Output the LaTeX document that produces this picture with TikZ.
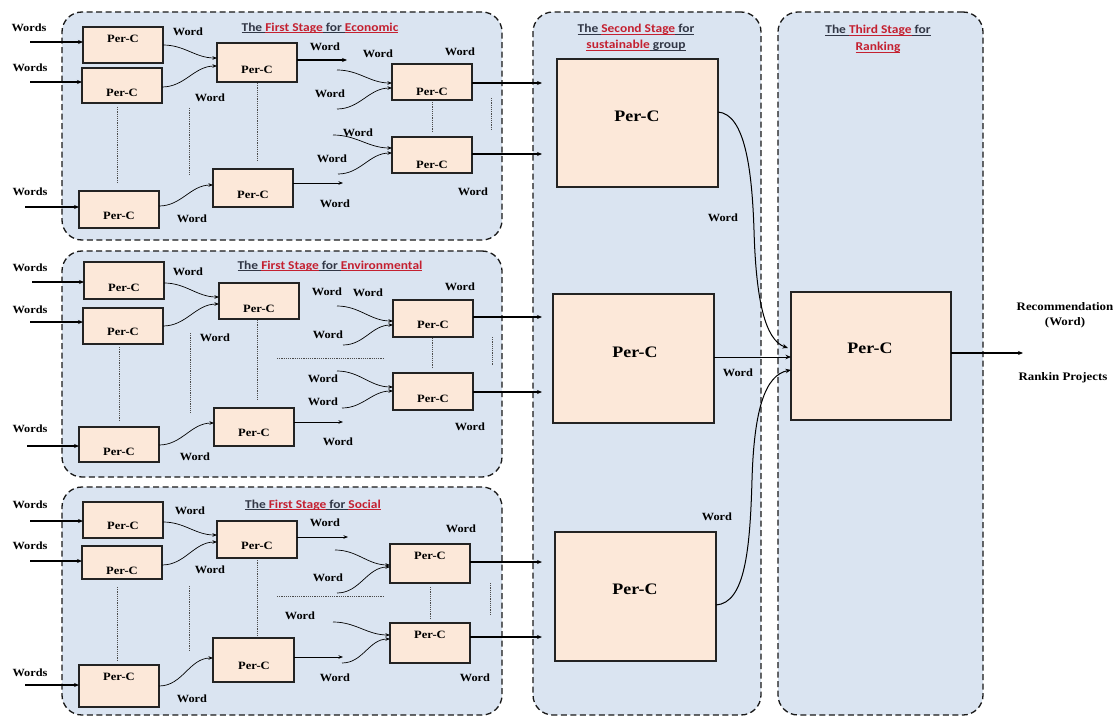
\documentclass[tikz,border=0pt]{standalone}
\usepackage{fontspec}
\setmainfont{Liberation Serif}[FakeStretch=1.12]
\newfontfamily\tfont{Carlito}[FakeStretch=1.12]
\usetikzlibrary{calc,arrows.meta}
\definecolor{stagebg}{RGB}{218,228,241}
\definecolor{boxfill}{RGB}{252,232,217}
\definecolor{boxline}{RGB}{35,35,35}
\definecolor{tred}{RGB}{196,32,48}
\definecolor{tdark}{RGB}{50,55,70}
\newcommand\tul[1]{\setbox0\hbox{#1}\rlap{\rule[-1.8pt]{\wd0}{0.7pt}}\box0}
\newcommand\mkbox[6][pbox]{\node[#1,anchor=north west,minimum width={(#5-#3)*1pt},minimum height={(#6-#4)*1pt}] (#2) at (#3,#4) {};}
\begin{document}
\begin{tikzpicture}[x=1pt,y=-1pt,
  wd/.style={font=\fontsize{11}{12}\selectfont\bfseries, inner sep=0},
  ptxt/.style={font=\fontsize{11.2}{13}\selectfont\bfseries, inner sep=0},
  bigt/.style={font=\fontsize{16}{18}\selectfont\bfseries, inner sep=0},
  ttl/.style={font=\tfont\fontsize{12}{16.5}\selectfont\bfseries, text=tdark, align=center, inner sep=0},
  pbox/.style={draw=boxline, fill=boxfill, line width=1.2pt, inner sep=0, outer sep=0},
  frm/.style={draw=black!90, fill=stagebg, dash pattern=on 6pt off 3.5pt, line width=1.3pt, rounded corners=20pt, inner sep=0, outer sep=0},
  inarr/.style={line width=1.3pt, -{Stealth[length=5pt,width=4pt]}},
  carr/.style={line width=0.7pt, -{Stealth[length=4.5pt,width=3.5pt]}},
  marr/.style={line width=1.1pt, -{Stealth[length=5pt,width=4pt]}},
  sarr/.style={line width=1pt, -{Stealth[length=5.5pt,width=4.5pt]}},
  dots/.style={draw=gray!60!black, line width=0.9pt, dash pattern=on 1.2pt off 1pt}]
\useasboundingbox (0,0) rectangle (1120,717);
% frames
\mkbox[frm]{fe}{62}{12}{502}{240}
\mkbox[frm]{fv}{62}{251}{502}{477}
\mkbox[frm]{fs}{62}{487}{502}{715}
\mkbox[frm]{f2}{533}{12}{761}{715}
\mkbox[frm]{f3}{778}{12}{983}{715}
% titles
\node[ttl] (te) at (320,28) {\tul{The }{\color{tred}\tul{First Stage}}\tul{ for }{\color{tred}\tul{Economic}}};
\node[ttl] (tv) at (330,266) {\tul{The }{\color{tred}\tul{First Stage}}\tul{ for }{\color{tred}\tul{Environmental}}};
\node[ttl] (ts) at (313,505) {\tul{The }{\color{tred}\tul{First Stage}}\tul{ for }{\color{tred}\tul{Social}}};
\node[ttl] (t2) at (636,37.5) {\tul{The }{\color{tred}\tul{Second Stage}}\tul{ for}\\{\color{tred}\tul{sustainable}}\tul{ group}};
\node[ttl] (t3) at (878,39) {\tul{The }{\color{tred}\tul{Third Stage}}\tul{ for}\\{\color{tred}\tul{Ranking}}};
% dotted guides
\draw[dots] (117,107) -- (117,182); \draw[dots] (189,108) -- (189,175); \draw[dots] (257,83) -- (257,162);
\draw[dots] (432,102) -- (432,132); \draw[dots] (491,98) -- (491,130);
\draw[dots] (119,347) -- (119,420); \draw[dots] (190,333) -- (190,413); \draw[dots] (257,320) -- (257,400);
\draw[dots] (432,338) -- (432,368); \draw[dots] (492,337) -- (492,365); \draw[dots] (277,358) -- (383,358);
\draw[dots] (117,587) -- (117,660); \draw[dots] (189,586) -- (189,652); \draw[dots] (257,558) -- (257,638);
\draw[dots] (430,587) -- (430,618); \draw[dots] (490,583) -- (490,615); \draw[dots] (277,596) -- (383,596);
% ===== Economic boxes
\mkbox{ea1}{83}{27}{163}{63}
\mkbox{ea2}{82}{68}{162}{103}
\mkbox{eb1}{217}{43}{297}{82}
\mkbox{ec1}{392}{64}{472}{100}
\mkbox{ec2}{392}{137}{472}{173}
\mkbox{eb2}{213}{169}{293}{207}
\mkbox{ea3}{79}{191}{159}{228}
\node[ptxt] (ea1t) at (123,39) {Per-C};
\node[ptxt] (ea2t) at (122,93) {Per-C};
\node[ptxt] (eb1t) at (257,70) {Per-C};
\node[ptxt] (ec1t) at (432,92) {Per-C};
\node[ptxt] (ec2t) at (432,165) {Per-C};
\node[ptxt] (eb2t) at (253,195) {Per-C};
\node[ptxt] (ea3t) at (119,216) {Per-C};
% ===== Environmental boxes
\mkbox{va1}{84}{262}{164}{299}
\mkbox{va2}{83}{308}{163}{344}
\mkbox{vb1}{219}{283}{299}{319}
\mkbox{vc1}{393}{300}{473}{337}
\mkbox{vc2}{393}{373}{473}{410}
\mkbox{vb2}{214}{408}{294}{446}
\mkbox{va3}{79}{427}{159}{462}
\node[ptxt] (va1t) at (124,288) {Per-C};
\node[ptxt] (va2t) at (123,332) {Per-C};
\node[ptxt] (vb1t) at (259,309) {Per-C};
\node[ptxt] (vc1t) at (433,325) {Per-C};
\node[ptxt] (vc2t) at (433,399) {Per-C};
\node[ptxt] (vb2t) at (254,433) {Per-C};
\node[ptxt] (va3t) at (119,452) {Per-C};
% ===== Social boxes
\mkbox{sa1}{83}{502}{163}{538}
\mkbox{sa2}{82}{546}{162}{579}
\mkbox{sb1}{217}{521}{297}{558}
\mkbox{sc1}{390}{544}{470}{583}
\mkbox{sc2}{390}{623}{470}{663}
\mkbox{sb2}{213}{638}{294}{682}
\mkbox{sa3}{79}{665}{159}{707}
\node[ptxt] (sa1t) at (123,526) {Per-C};
\node[ptxt] (sa2t) at (122,571) {Per-C};
\node[ptxt] (sb1t) at (257,546) {Per-C};
\node[ptxt] (sc1t) at (430,556) {Per-C};
\node[ptxt] (sc2t) at (430,635) {Per-C};
\node[ptxt] (sb2t) at (254,666) {Per-C};
\node[ptxt] (sa3t) at (119,677) {Per-C};
% ===== Stage 2 / 3 boxes
\mkbox{S1}{557}{59}{718}{187}
\mkbox{S2}{553}{294}{714}{423}
\mkbox{S3}{555}{532}{716}{661}
\mkbox{T}{791}{292}{951}{420}
\node[bigt] (S1t) at (637,116) {Per-C};
\node[bigt] (S2t) at (635,352) {Per-C};
\node[bigt] (S3t) at (635,589) {Per-C};
\node[bigt] (Tt) at (870,348) {Per-C};
% ===== Economic connectors
\coordinate (eiA) at (30,42); \draw[inarr] (eiA) -- ($(ea1.north west)+(0,15)$);
\coordinate (eiB) at (30,82); \draw[inarr] (eiB) -- ($(ea2.north west)+(0,14)$);
\coordinate (eiC) at (25,207); \draw[inarr] (eiC) -- ($(ea3.north west)+(0,16)$);
\draw[carr] ($(ea1.north east)+(0,18)$) to[out=0,in=180] ($(eb1.north west)+(0,15)$);
\draw[carr] ($(ea2.north east)+(0,19)$) to[out=0,in=180] ($(eb1.north west)+(0,23)$);
\coordinate (eoB1) at (347,60); \draw[marr] ($(eb1.north east)+(0,17)$) -- (eoB1);
\coordinate (ecA) at (337,70); \draw[carr] (ecA) to[out=0,in=180] ($(ec1.north west)+(0,19)$);
\coordinate (ecB) at (337,109); \draw[carr] (ecB) to[out=0,in=180] ($(ec1.north west)+(0,24)$);
\coordinate (es1) at (542,83); \draw[marr] ($(ec1.north east)+(0,19)$) -- (es1);
\coordinate (ecC) at (333,135); \draw[carr] (ecC) to[out=0,in=180] ($(ec2.north west)+(0,11)$);
\coordinate (ecD) at (338,174); \draw[carr] (ecD) to[out=0,in=180] ($(ec2.north west)+(0,16)$);
\coordinate (es2) at (542,154); \draw[marr] ($(ec2.north east)+(0,17)$) -- (es2);
\draw[carr] ($(ea3.north east)+(0,15)$) to[out=0,in=180] ($(eb2.north west)+(0,16)$);
\coordinate (eoB2) at (343,183); \draw[carr] ($(eb2.north east)+(0,14)$) -- (eoB2);
\node[wd] (ewA) at (29,28) {Words};
\node[wd] (ewB) at (30,68) {Words};
\node[wd] (ewC) at (30,192) {Words};
\node[wd] (el1) at (188,32) {Word};
\node[wd] (el2) at (210,98) {Word};
\node[wd] (el3) at (325,47) {Word};
\node[wd] (el4) at (378,54) {Word};
\node[wd] (el5) at (330,94) {Word};
\node[wd] (el6) at (460,52) {Word};
\node[wd] (el7) at (358,133) {Word};
\node[wd] (el8) at (332,159) {Word};
\node[wd] (el9) at (473,192) {Word};
\node[wd] (el10) at (192,219) {Word};
\node[wd] (el11) at (335,204) {Word};
% ===== Environmental connectors
\coordinate (viA) at (32,282); \draw[inarr] (viA) -- ($(va1.north west)+(0,20)$);
\coordinate (viB) at (30,322); \draw[inarr] (viB) -- ($(va2.north west)+(0,14)$);
\coordinate (viC) at (27,446); \draw[inarr] (viC) -- ($(va3.north west)+(0,19)$);
\draw[carr] ($(va1.north east)+(0,21)$) to[out=0,in=180] ($(vb1.north west)+(0,14)$);
\draw[carr] ($(va2.north east)+(0,18)$) to[out=0,in=180] ($(vb1.north west)+(0,21)$);
\coordinate (vcA) at (337,306); \draw[carr] (vcA) to[out=0,in=180] ($(vc1.north west)+(0,21)$);
\coordinate (vcB) at (343,345); \draw[carr] (vcB) to[out=0,in=180] ($(vc1.north west)+(0,25)$);
\coordinate (vs1) at (542,317); \draw[marr] ($(vc1.north east)+(0,17)$) -- (vs1);
\coordinate (vcC) at (337,371); \draw[carr] (vcC) to[out=0,in=180] ($(vc2.north west)+(0,14)$);
\coordinate (vcD) at (342,408); \draw[carr] (vcD) to[out=0,in=180] ($(vc2.north west)+(0,18)$);
\coordinate (vs2) at (542,392); \draw[marr] ($(vc2.north east)+(0,19)$) -- (vs2);
\draw[carr] ($(va3.north east)+(0,18)$) to[out=0,in=180] ($(vb2.north west)+(0,15)$);
\coordinate (voB2) at (343,422); \draw[carr] ($(vb2.north east)+(0,14)$) -- (voB2);
\node[wd] (vwA) at (30,268) {Words};
\node[wd] (vwB) at (30,310) {Words};
\node[wd] (vwC) at (30,429) {Words};
\node[wd] (vl1) at (188,272) {Word};
\node[wd] (vl2) at (215,338) {Word};
\node[wd] (vl3) at (327,292) {Word};
\node[wd] (vl4) at (368,293) {Word};
\node[wd] (vl5) at (328,335) {Word};
\node[wd] (vl6) at (460,287) {Word};
\node[wd] (vl7) at (323,379) {Word};
\node[wd] (vl8) at (323,402) {Word};
\node[wd] (vl9) at (470,427) {Word};
\node[wd] (vl10) at (338,442) {Word};
\node[wd] (vl11) at (195,457) {Word};
% ===== Social connectors
\coordinate (siA) at (30,521); \draw[inarr] (siA) -- ($(sa1.north west)+(0,19)$);
\coordinate (siB) at (30,561); \draw[inarr] (siB) -- ($(sa2.north west)+(0,15)$);
\coordinate (siC) at (25,685); \draw[inarr] (siC) -- ($(sa3.north west)+(0,20)$);
\draw[carr] ($(sa1.north east)+(0,20)$) to[out=0,in=180] ($(sb1.north west)+(0,14)$);
\draw[carr] ($(sa2.north east)+(0,19)$) to[out=0,in=180] ($(sb1.north west)+(0,21)$);
\coordinate (soB1) at (348,537); \draw[carr] ($(sb1.north east)+(0,16)$) -- (soB1);
\coordinate (scA) at (335,550); \draw[carr] (scA) to[out=0,in=180] ($(sc1.north west)+(0,21)$);
\coordinate (scB) at (337,593); \draw[carr] (scB) to[out=0,in=180] ($(sc1.north west)+(0,23)$);
\coordinate (ss1) at (542,562); \draw[marr] ($(sc1.north east)+(0,18)$) -- (ss1);
\coordinate (scC) at (333,622); \draw[carr] (scC) to[out=0,in=180] ($(sc2.north west)+(0,12)$);
\coordinate (scD) at (342,663); \draw[carr] (scD) to[out=0,in=180] ($(sc2.north west)+(0,16)$);
\coordinate (ss2) at (542,637); \draw[marr] ($(sc2.north east)+(0,14)$) -- (ss2);
\draw[carr] ($(sa3.north east)+(0,21)$) to[out=0,in=180] ($(sb2.north west)+(0,20)$);
\coordinate (soB2) at (343,657); \draw[carr] ($(sb2.north east)+(0,19)$) -- (soB2);
\node[wd] (swA) at (30,505) {Words};
\node[wd] (swB) at (30,546) {Words};
\node[wd] (swC) at (30,673) {Words};
\node[wd] (sl1) at (190,511) {Word};
\node[wd] (sl2) at (210,570) {Word};
\node[wd] (sl3) at (325,523) {Word};
\node[wd] (sl4) at (461,529) {Word};
\node[wd] (sl5) at (328,578) {Word};
\node[wd] (sl6) at (300,616) {Word};
\node[wd] (sl7) at (335,678) {Word};
\node[wd] (sl8) at (475,678) {Word};
\node[wd] (sl9) at (192,699) {Word};
% ===== Stage 2 -> 3
\draw[sarr] ($(S1.north east)+(0,53)$) .. controls (745,114) and (752,170) .. (754,230) .. controls (756,300) and (765,340) .. ($(T.north west)+(-3,56)$);
\draw[sarr] ($(S2.north east)+(0,63)$) -- ($(T.north west)+(0,65)$);
\draw[sarr] ($(S3.north east)+(0,73)$) .. controls (745,603) and (750,550) .. (752,480) .. controls (754,410) and (765,375) .. ($(T.north west)+(0,78)$);
\node[wd] (m1) at (723,218) {Word};
\node[wd] (m2) at (738,373) {Word};
\node[wd] (m3) at (717,517) {Word};
\coordinate (outE) at (1023,353); \draw[marr] ($(T.north east)+(0,61)$) -- (outE);
\node[font=\fontsize{11.5}{15}\selectfont\bfseries, align=center, inner sep=0] (rec) at (1065,315.5) {Recommendation\\(Word)};
\node[font=\fontsize{11.5}{14}\selectfont\bfseries, inner sep=0] (rank) at (1063,378) {Rankin Projects};
\end{tikzpicture}
\end{document}
